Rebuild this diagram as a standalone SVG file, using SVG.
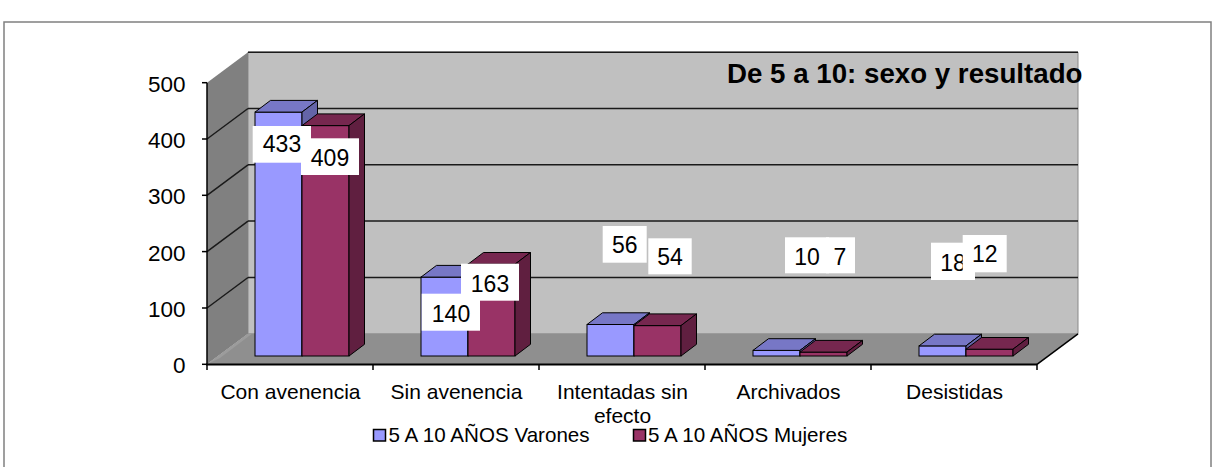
<svg xmlns="http://www.w3.org/2000/svg" width="1214" height="467" viewBox="0 0 1214 467">
<style>
text{font-family:"Liberation Sans",Arial,sans-serif;fill:#000}
.ax{font-size:22.5px;text-anchor:end}
.cat{font-size:21px;text-anchor:middle}
.dl{font-size:23px;text-anchor:middle}
.lg{font-size:20.6px}
.title{font-size:27.7px;font-weight:bold}
.grid{stroke:#1a1a1a;stroke-width:1.5;fill:none}
.axis{stroke:#000;stroke-width:1.5;fill:none}
.vf{fill:#9999ff;stroke:#000;stroke-width:1}
.vt{fill:#7777c6;stroke:#000;stroke-width:1}
.vs{fill:#6464a8;stroke:#000;stroke-width:1}
.mf{fill:#993366;stroke:#000;stroke-width:1}
.mt{fill:#76274f;stroke:#000;stroke-width:1}
.ms{fill:#601f40;stroke:#000;stroke-width:1}
.lb{fill:#fff}
</style>
<rect x="0" y="0" width="1214" height="467" fill="#fff"/>
<rect x="4" y="22" width="1207" height="470" fill="#fff" stroke="#808080" stroke-width="1.5"/>

<g id="walls">
<polygon points="248,52.2 1078,52.2 1078,333.8 248,333.8" fill="#c0c0c0" stroke="#8a8a8a" stroke-width="1"/>
<polygon points="207,82.7 248,52.2 248,333.8 207,364.3" fill="#808080"/>
<polygon points="207,364.3 248,333.8 1078,333.8 1037,364.3" fill="#8f8f8f"/>
<polygon points="207,364.3 248,333.8 252,333.8 220,358" fill="#9c9c9c"/>
</g>

<g id="gridlines">
<line class="grid" x1="248" y1="52.2" x2="1078" y2="52.2"/>
<line class="grid" x1="248" y1="108.5" x2="1078" y2="108.5"/>
<line class="grid" x1="248" y1="164.8" x2="1078" y2="164.8"/>
<line class="grid" x1="248" y1="221.1" x2="1078" y2="221.1"/>
<line class="grid" x1="248" y1="277.5" x2="1078" y2="277.5"/>
<line class="grid" x1="207" y1="139" x2="248" y2="108.5"/>
<line class="grid" x1="207" y1="195.3" x2="248" y2="164.8"/>
<line class="grid" x1="207" y1="251.6" x2="248" y2="221.1"/>
<line class="grid" x1="207" y1="308" x2="248" y2="277.5"/>
</g>

<g id="axes">
<line class="axis" x1="207" y1="82.7" x2="207" y2="365"/>
<line x1="206" y1="364.5" x2="1037" y2="364.5" stroke="#000" stroke-width="2"/>
<line class="axis" x1="1037" y1="364.3" x2="1078" y2="333.8"/>
<line class="axis" x1="202" y1="82.7" x2="207" y2="82.7"/>
<line class="axis" x1="202" y1="139" x2="207" y2="139"/>
<line class="axis" x1="202" y1="195.3" x2="207" y2="195.3"/>
<line class="axis" x1="202" y1="251.6" x2="207" y2="251.6"/>
<line class="axis" x1="202" y1="308" x2="207" y2="308"/>
<line class="axis" x1="202" y1="364.3" x2="207" y2="364.3"/>
<line class="axis" x1="207" y1="364" x2="207" y2="370"/>
<line class="axis" x1="373" y1="364" x2="373" y2="370"/>
<line class="axis" x1="539" y1="364" x2="539" y2="370"/>
<line class="axis" x1="705" y1="364" x2="705" y2="370"/>
<line class="axis" x1="871" y1="364" x2="871" y2="370"/>
<line class="axis" x1="1037" y1="364" x2="1037" y2="370"/>
<text class="ax" x="185.5" y="91.7">500</text>
<text class="ax" x="185.5" y="148">400</text>
<text class="ax" x="185.5" y="204.3">300</text>
<text class="ax" x="185.5" y="260.6">200</text>
<text class="ax" x="185.5" y="317">100</text>
<text class="ax" x="185.5" y="373.3">0</text>
<text class="cat" x="290.5" y="399">Con avenencia</text>
<text class="cat" x="456.5" y="399">Sin avenencia</text>
<text class="cat" x="622.5" y="399">Intentadas sin</text>
<text class="cat" x="622.5" y="423">efecto</text>
<text class="cat" x="788.5" y="399">Archivados</text>
<text class="cat" x="954.5" y="399">Desistidas</text>
</g>

<g id="bars">
<g id="cat-con-avenencia">
<rect class="vf" x="255" y="112.1" width="47" height="243.9"/>
<polygon class="vt" points="255,112.1 302,112.1 317.5,100.4 270.5,100.4"/>
<polygon class="vs" points="302,112.1 317.5,100.4 317.5,344.3 302,356"/>
<rect class="mf" x="302" y="125.6" width="47" height="230.4"/>
<polygon class="mt" points="302,125.6 349,125.6 364.5,113.9 317.5,113.9"/>
<polygon class="ms" points="349,125.6 364.5,113.9 364.5,344.3 349,356"/>
</g>
<g id="cat-sin-avenencia">
<rect class="vf" x="421" y="277.1" width="47" height="78.9"/>
<polygon class="vt" points="421,277.1 468,277.1 483.5,265.4 436.5,265.4"/>
<polygon class="vs" points="468,277.1 483.5,265.4 483.5,344.3 468,356"/>
<rect class="mf" x="468" y="264.2" width="47" height="91.8"/>
<polygon class="mt" points="468,264.2 515,264.2 530.5,252.5 483.5,252.5"/>
<polygon class="ms" points="515,264.2 530.5,252.5 530.5,344.3 515,356"/>
</g>
<g id="cat-intentadas">
<rect class="vf" x="587" y="324.5" width="47" height="31.5"/>
<polygon class="vt" points="587,324.5 634,324.5 649.5,312.8 602.5,312.8"/>
<polygon class="vs" points="634,324.5 649.5,312.8 649.5,344.3 634,356"/>
<rect class="mf" x="634" y="325.6" width="47" height="30.4"/>
<polygon class="mt" points="634,325.6 681,325.6 696.5,313.9 649.5,313.9"/>
<polygon class="ms" points="681,325.6 696.5,313.9 696.5,344.3 681,356"/>
</g>
<g id="cat-archivados">
<rect class="vf" x="753" y="350.4" width="47" height="5.6"/>
<polygon class="vt" points="753,350.4 800,350.4 815.5,338.7 768.5,338.7"/>
<polygon class="vs" points="800,350.4 815.5,338.7 815.5,344.3 800,356"/>
<rect class="mf" x="800" y="352.1" width="47" height="3.9"/>
<polygon class="mt" points="800,352.1 847,352.1 862.5,340.4 815.5,340.4"/>
<polygon class="ms" points="847,352.1 862.5,340.4 862.5,344.3 847,356"/>
</g>
<g id="cat-desistidas">
<rect class="vf" x="919" y="345.9" width="47" height="10.1"/>
<polygon class="vt" points="919,345.9 966,345.9 981.5,334.2 934.5,334.2"/>
<polygon class="vs" points="966,345.9 981.5,334.2 981.5,344.3 966,356"/>
<rect class="mf" x="966" y="349.2" width="47" height="6.8"/>
<polygon class="mt" points="966,349.2 1013,349.2 1028.5,337.5 981.5,337.5"/>
<polygon class="ms" points="1013,349.2 1028.5,337.5 1028.5,344.3 1013,356"/>
</g>
</g>

<g id="data-labels">
<rect class="lb" x="252.7" y="126" width="58.3" height="36.7"/>
<text class="dl" x="282" y="152">433</text>
<rect class="lb" x="301" y="138.3" width="58" height="36.7"/>
<text class="dl" x="330" y="165.5">409</text>
<rect class="lb" x="461" y="263.7" width="58" height="37"/>
<text class="dl" x="490" y="291.5">163</text>
<rect class="lb" x="421.7" y="293.7" width="58.3" height="37"/>
<text class="dl" x="451" y="321.5">140</text>
<rect class="lb" x="602.7" y="226" width="44" height="36.7"/>
<text class="dl" x="624.7" y="253">56</text>
<rect class="lb" x="648.3" y="238.3" width="43.4" height="36"/>
<text class="dl" x="670" y="265">54</text>
<rect class="lb" x="785" y="237.3" width="44" height="36"/>
<text class="dl" x="807" y="265">10</text>
<rect class="lb" x="826" y="237.3" width="29" height="36"/>
<text class="dl" x="840" y="265">7</text>
<rect class="lb" x="931" y="242.7" width="44" height="37.3"/>
<text class="dl" x="953" y="270.5">18</text>
<rect class="lb" x="962.7" y="235" width="44" height="37.3"/>
<text class="dl" x="984.7" y="262.3">12</text>
</g>

<g id="title">
<text class="title" x="727" y="83.3">De 5 a 10: sexo y resultado</text>
</g>

<g id="legend">
<rect x="373.5" y="429.5" width="12" height="11.5" fill="#9999ff" stroke="#000" stroke-width="1.5"/>
<text class="lg" x="388.5" y="441.7">5 A 10 AÑOS Varones</text>
<rect x="633.5" y="429.5" width="12" height="11.5" fill="#993366" stroke="#000" stroke-width="1.5"/>
<text class="lg" x="648" y="441.7">5 A 10 AÑOS Mujeres</text>
</g>
</svg>
